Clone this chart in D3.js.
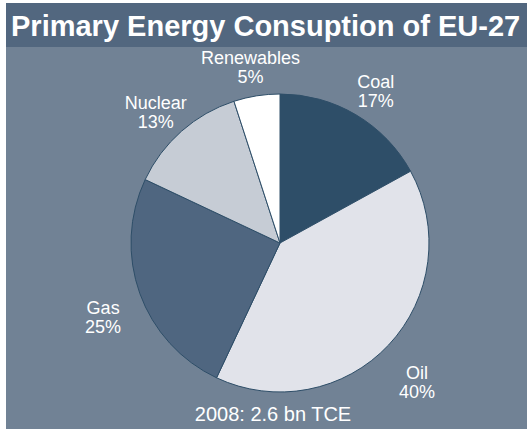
<!DOCTYPE html>
<html>
<head>
<meta charset="utf-8">
<script src="https://cdn.jsdelivr.net/npm/d3@7"></script>
<style>
  html, body { margin: 0; padding: 0; background: #ffffff; }
  svg { display: block; font-family: "Liberation Sans", Arial, sans-serif; }
</style>
</head>
<body>
<div id="chart"></div>
<script>
//data
const categories = ["Coal", "Oil", "Gas", "Nuclear", "Renewables"];
const shares = [17, 40, 25, 13, 5];
const sliceColors = ["#2e4e68", "#e1e3ea", "#4f6680", "#c6ccd5", "#ffffff"];
const titleText = "Primary Energy Consuption of EU-27";
const footText = "2008: 2.6 bn TCE";

//layout constants
const width = 527,
    height = 431,
    cx = 280,
    cy = 243,
    radius = 149,
    labelRadius = 188;

const svg = d3.select("#chart").append("svg")
    .attr("width", width)
    .attr("height", height);

//panel and header band
svg.append("rect")
    .attr("x", 6).attr("y", 3)
    .attr("width", width - 6).attr("height", height - 5)
    .attr("fill", "#718295");

svg.append("rect")
    .attr("x", 6).attr("y", 3)
    .attr("width", width - 6).attr("height", 44)
    .attr("fill", "#52677f");

svg.append("text")
    .attr("x", 11)
    .attr("y", 36)
    .attr("fill", "#ffffff")
    .style("font-size", "29px")
    .style("font-weight", "bold")
    .text(titleText);

const data = categories.map((c, i) => ({ label: c, value: shares[i], color: sliceColors[i] }));

const pie = d3.pie()
    .sort(null)
    .value(d => d.value);

const arc = d3.arc()
    .innerRadius(0)
    .outerRadius(radius);

//labels sit on a ring outside the pie
const labelArc = d3.arc()
    .innerRadius(labelRadius)
    .outerRadius(labelRadius);

const g = svg.append("g")
    .attr("transform", "translate(" + cx + "," + cy + ")");

g.selectAll("path")
    .data(pie(data))
  .enter()
    .append("path")
    .attr("d", arc)
    .attr("fill", d => d.data.color)
    .attr("stroke", "#2e4e68")
    .attr("stroke-width", 1);

const labels = g.selectAll(".label")
    .data(pie(data))
  .enter()
    .append("text")
    .attr("class", "label")
    .attr("text-anchor", "middle")
    .attr("fill", "#ffffff")
    .style("font-size", "18px")
    .attr("transform", d => {
      const p = labelArc.centroid(d);
      return "translate(" + p[0] + "," + (p[1] + 7) + ")";
    });

labels.append("tspan")
    .attr("x", 0)
    .attr("y", 0)
    .text(d => d.data.label);

labels.append("tspan")
    .attr("x", 0)
    .attr("y", 19)
    .text(d => d.data.value + "%");

svg.append("text")
    .attr("x", 273)
    .attr("y", 421)
    .attr("text-anchor", "middle")
    .attr("fill", "#ffffff")
    .style("font-size", "20px")
    .text(footText);
</script>
</body>
</html>
